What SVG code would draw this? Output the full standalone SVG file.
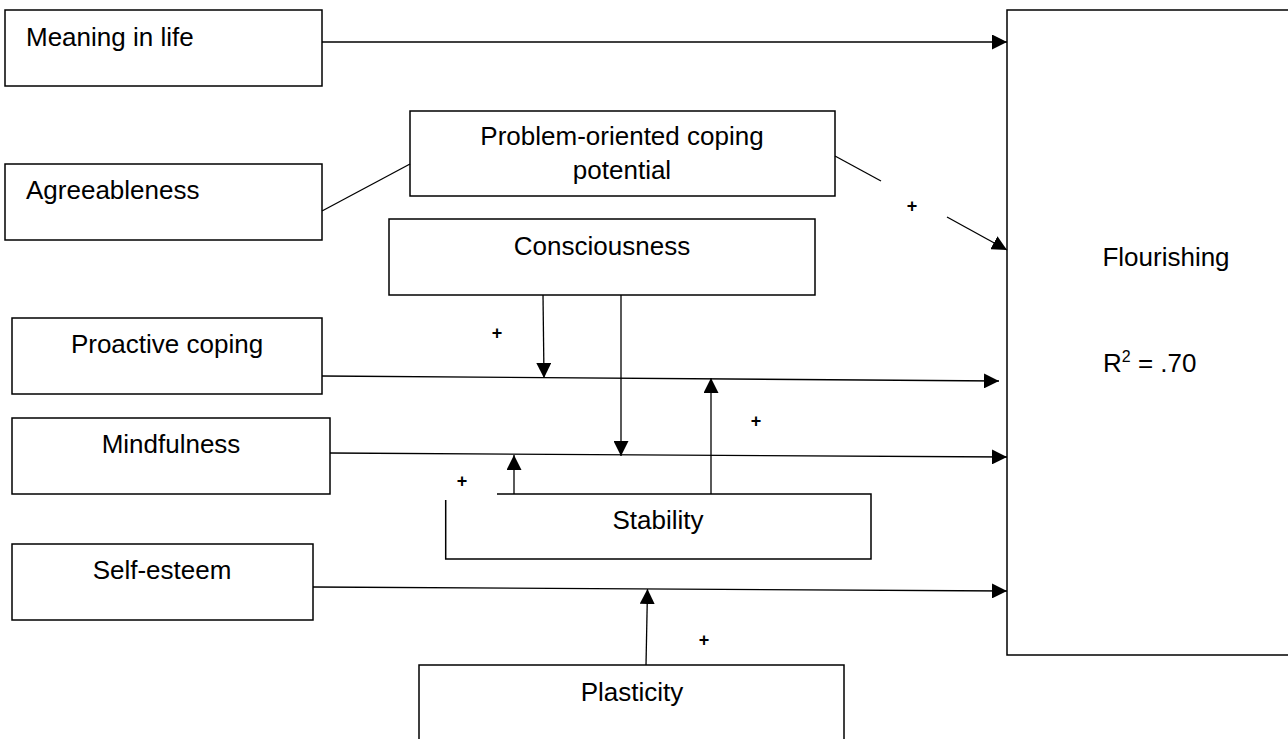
<svg xmlns="http://www.w3.org/2000/svg" width="1288" height="739" viewBox="0 0 1288 739">
  <style>
    .box { fill: #fff; stroke: #000; stroke-width: 1.5; }
    .edge { fill: none; stroke: #000; stroke-width: 1.3; }
    .lbl { font-family: "Liberation Sans", Arial, sans-serif; font-size: 26px; fill: #000; }
    .mid { text-anchor: middle; }
    .sign { font-family: "Liberation Sans", Arial, sans-serif; font-size: 18px; font-weight: bold; fill: #000; text-anchor: middle; }
  </style>
  <defs>
    <marker id="arrow" markerUnits="userSpaceOnUse" markerWidth="15" markerHeight="15" refX="15" refY="7.5" orient="auto">
      <path d="M0,0 L15,7.5 L0,15 z" fill="#000"/>
    </marker>
  </defs>
  <rect width="1288" height="739" fill="#fff"/>

  <!-- predictor boxes -->
  <g id="meaning">
    <rect class="box" x="5" y="10" width="317" height="76"/>
    <text class="lbl" x="26" y="46">Meaning in life</text>
  </g>
  <g id="agreeableness">
    <rect class="box" x="5" y="164" width="317" height="76"/>
    <text class="lbl" x="26" y="199">Agreeableness</text>
  </g>
  <g id="problem-coping">
    <rect class="box" x="410" y="111" width="425" height="85"/>
    <text class="lbl mid" x="622" y="145">Problem-oriented coping</text>
    <text class="lbl mid" x="622" y="179">potential</text>
  </g>
  <g id="consciousness">
    <rect class="box" x="389" y="219" width="426" height="76"/>
    <text class="lbl mid" x="602" y="255">Consciousness</text>
  </g>
  <g id="proactive">
    <rect class="box" x="12" y="318" width="310" height="76"/>
    <text class="lbl mid" x="167" y="353">Proactive coping</text>
  </g>
  <g id="mindfulness">
    <rect class="box" x="12" y="418" width="318" height="76"/>
    <text class="lbl mid" x="171" y="453">Mindfulness</text>
  </g>
  <g id="self-esteem">
    <rect class="box" x="12" y="544" width="301" height="76"/>
    <text class="lbl mid" x="162" y="579">Self-esteem</text>
  </g>
  <g id="stability">
    <path class="edge" style="stroke-width:1.5" d="M497,494 H871 V559 H445.7 V500"/>
    <text class="lbl mid" x="658" y="529">Stability</text>
  </g>
  <g id="plasticity">
    <rect class="box" x="419" y="665" width="425" height="90"/>
    <text class="lbl mid" x="632" y="701">Plasticity</text>
  </g>
  <g id="flourishing">
    <rect class="box" x="1007" y="10" width="300" height="645"/>
    <text class="lbl mid" x="1166" y="266">Flourishing</text>
    <text class="lbl" x="1103" y="372">R<tspan font-size="16" dy="-10">2</tspan><tspan dy="10"> = .70</tspan></text>
  </g>

  <!-- paths -->
  <g id="connectors">
    <line class="edge" x1="322" y1="42" x2="1007" y2="42" marker-end="url(#arrow)"/>
    <line class="edge" x1="322" y1="211" x2="410" y2="164"/>
    <line class="edge" x1="835" y1="156" x2="881" y2="181"/>
    <line class="edge" x1="947" y1="217" x2="1007" y2="250" marker-end="url(#arrow)"/>
    <line class="edge" x1="322" y1="376" x2="999" y2="381" marker-end="url(#arrow)"/>
    <line class="edge" x1="330" y1="453" x2="1007" y2="457" marker-end="url(#arrow)"/>
    <line class="edge" x1="313" y1="587" x2="1007" y2="591" marker-end="url(#arrow)"/>
    <line class="edge" x1="543" y1="295" x2="544" y2="378" marker-end="url(#arrow)"/>
    <line class="edge" x1="621" y1="295" x2="621" y2="456" marker-end="url(#arrow)"/>
    <line class="edge" x1="711" y1="494" x2="711" y2="378" marker-end="url(#arrow)"/>
    <line class="edge" x1="514" y1="494" x2="514" y2="455" marker-end="url(#arrow)"/>
    <line class="edge" x1="646" y1="665" x2="647.5" y2="589" marker-end="url(#arrow)"/>
  </g>

  <!-- effect signs -->
  <g id="signs">
    <text class="sign" x="912" y="212">+</text>
    <text class="sign" x="497" y="339">+</text>
    <text class="sign" x="756" y="427">+</text>
    <text class="sign" x="462" y="487">+</text>
    <text class="sign" x="704" y="646">+</text>
  </g>
</svg>
